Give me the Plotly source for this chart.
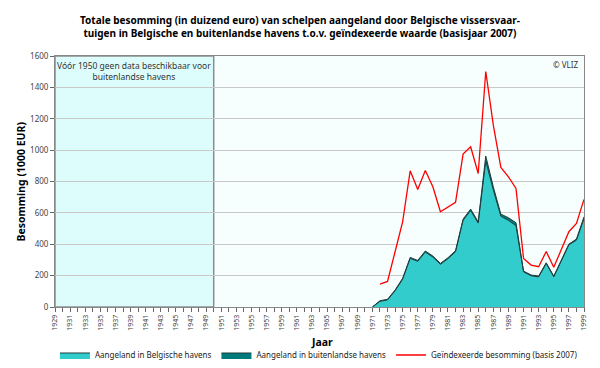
import plotly.graph_objects as go

years = list(range(1971, 2000))
belgisch = [0, 36, 45, 103, 177, 310, 291, 350, 318, 272, 308, 352, 552, 615, 535, 930, 746, 578, 552, 518, 224, 199, 192, 277, 192, 299, 396, 426, 562]
buitenland = [0, 4, 4, 5, 6, 6, 6, 7, 7, 6, 6, 7, 8, 9, 8, 32, 20, 14, 17, 19, 5, 5, 5, 5, 5, 5, 5, 7, 13]
ind_years = list(range(1972, 2000))
geindexeerd = [146, 163, 352, 543, 868, 749, 870, 766, 607, 639, 667, 975, 1021, 851, 1501, 1159, 890, 830, 756, 310, 267, 257, 354, 253, 363, 480, 533, 686]

tick_years = list(range(1929, 2000, 2))
tick_labels = [str(y) for y in tick_years]

title_text = ("<b>Totale besomming (in duizend euro) van schelpen aangeland door Belgische vissersvaar-<br>"
              "tuigen in Belgische en buitenlandse havens t.o.v. geïndexeerde waarde (basisjaar 2007)</b>")

font_fam = "Noto Sans, DejaVu Sans, sans-serif"

fig = go.Figure()
fig.add_trace(go.Scatter(x=years, y=belgisch, name="Aangeland in Belgische havens",
                         mode="lines", stackgroup="one", line=dict(color="#1f3f3f", width=1),
                         fillcolor="#33cccc"))
fig.add_trace(go.Scatter(x=years, y=buitenland, name="Aangeland in buitenlandse havens",
                         mode="lines", stackgroup="one", line=dict(color="#1f3f3f", width=1),
                         fillcolor="#007b7b"))
fig.add_trace(go.Scatter(x=ind_years, y=geindexeerd, name="Geïndexeerde besomming (basis 2007)",
                         mode="lines", line=dict(color="#ff0000", width=1.3)))

fig.add_shape(type="rect", xref="x", yref="y", x0=1929, x1=1950, y0=0, y1=1600,
              fillcolor="#ddfdfd", line=dict(color="#8c8c8c", width=1.5), layer="below")

fig.add_annotation(x=1939.5, y=1590, xref="x", yref="y", yanchor="top", showarrow=False,
                   text="Vóór 1950 geen data beschikbaar voor<br>buitenlandse havens",
                   font=dict(family=font_fam, size=8.5, color="#333333"))
fig.add_annotation(x=1, y=1, xref="paper", yref="paper", xanchor="right", yanchor="top",
                   xshift=-4, yshift=-1, showarrow=False, text="© VLIZ",
                   font=dict(family=font_fam, size=8, color="#333333"))
fig.add_annotation(x=(300 - 55) / 529, y=(307 - 26) / 251, xref="paper", yref="paper",
                   xanchor="center", yanchor="middle", showarrow=False, text=title_text,
                   font=dict(family=font_fam, size=10, color="black"))
fig.add_annotation(x=(322 - 55) / 529, y=(307 - 342) / 251, xref="paper", yref="paper",
                   xanchor="center", yanchor="middle", showarrow=False, text="<b>Jaar</b>",
                   font=dict(family=font_fam, size=10.5, color="black"))
fig.add_annotation(x=(20 - 55) / 529, y=0.5, xref="paper", yref="paper", xanchor="center", yanchor="middle",
                   showarrow=False, text="<b>Besomming (1000 EUR)</b>", textangle=-90,
                   font=dict(family=font_fam, size=10.5, color="black"))

fig.update_layout(
    width=600, height=368,
    margin=dict(l=55, r=16, t=56, b=61, autoexpand=False),
    paper_bgcolor="white", plot_bgcolor="#f7fefe",
    font=dict(family=font_fam, color="#333333"),
    showlegend=True,
    legend=dict(orientation="h", x=-0.0001, xanchor="left", yref="paper", y=(307 - 355) / 251,
                yanchor="middle", font=dict(size=8, color="#222222"), itemwidth=30,
                traceorder="normal", bgcolor="rgba(0,0,0,0)", tracegroupgap=0),
    xaxis=dict(range=[1929, 1999], tickvals=tick_years, ticktext=tick_labels, tickangle=-90,
               tickfont=dict(size=7, color="#444444"), ticks="outside", ticklen=4,
               tickcolor="#666666", showgrid=False, zeroline=False,
               showline=True, linecolor="#888888", linewidth=1, mirror=True,
               minor=dict(dtick=1, ticks="outside", ticklen=4, tickcolor="#666666", showgrid=False)),
    yaxis=dict(range=[0, 1600], dtick=200, tickfont=dict(size=8, color="#444444"),
               ticks="outside", ticklen=4, tickcolor="#666666",
               showgrid=True, gridcolor="#c8c8c8", gridwidth=1, zeroline=False,
               showline=True, linecolor="#888888", linewidth=1, mirror=True),
)

fig.write_html("out.html", config={"displayModeBar": False},
               post_script="document.body.style.margin='0';document.body.style.overflow='hidden';")
